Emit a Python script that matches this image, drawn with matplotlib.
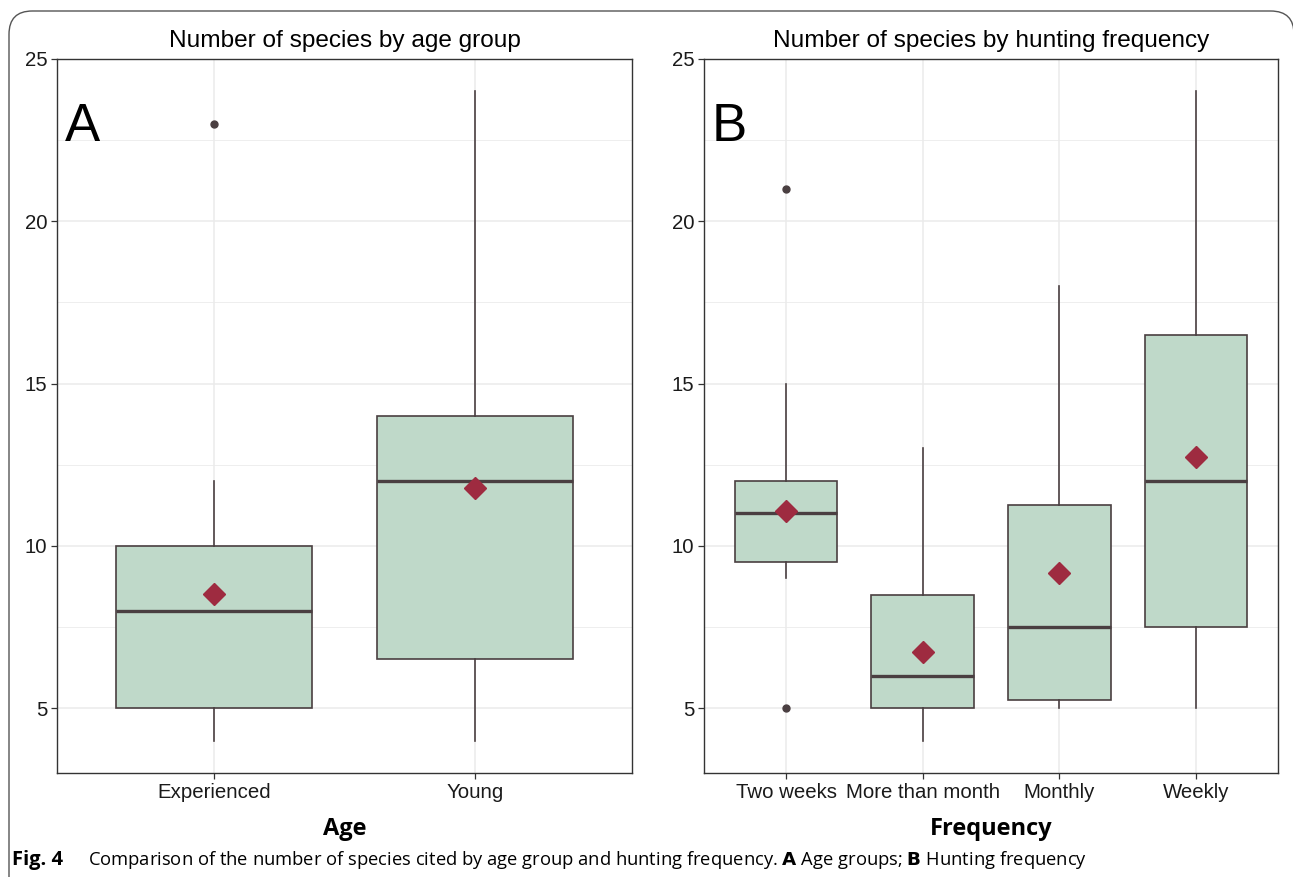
import matplotlib.pyplot as plt
from matplotlib.patches import FancyBboxPatch

# panel A: age groups
age_groups = ["Experienced", "Young"]
age_whislo = [4, 4]
age_q1 = [5, 6.5]
age_med = [8, 12]
age_q3 = [10, 14]
age_whishi = [12, 24]
age_fliers = [[23], []]
age_means = [8.51, 11.78]

# panel B: hunting frequency
freq_groups = ["Two weeks", "More than month", "Monthly", "Weekly"]
freq_whislo = [9, 4, 5, 5]
freq_q1 = [9.5, 5, 5.25, 7.5]
freq_med = [11, 6, 7.5, 12]
freq_q3 = [12, 8.5, 11.25, 16.5]
freq_whishi = [15, 13, 18, 24]
freq_fliers = [[21, 5], [], [], []]
freq_means = [11.07, 6.73, 9.16, 12.73]

box_fill = "#bfd9c9"
edge = "#4a3f41"
mean_col = "#9e2b40"
grid_col = "#ebebeb"

W, H = 1293, 877
fig = plt.figure(figsize=(W / 100, H / 100), dpi=100)


def px_axes(l, r, t, b):
    return fig.add_axes([l / W, 1 - b / H, (r - l) / W, (b - t) / H])


def panel(ax, groups, lo, q1, med, q3, hi, fliers, means, title, letter, xlabel):
    stats = []
    for i, g in enumerate(groups):
        stats.append(dict(label=g, whislo=lo[i], q1=q1[i], med=med[i],
                          q3=q3[i], whishi=hi[i], fliers=fliers[i]))
    pos = list(range(1, len(groups) + 1))
    ax.bxp(stats, positions=pos, widths=0.75, patch_artist=True, showcaps=False,
           boxprops=dict(facecolor=box_fill, edgecolor=edge, linewidth=1.2),
           medianprops=dict(color=edge, linewidth=2.4, solid_capstyle="butt"),
           whiskerprops=dict(color=edge, linewidth=1.2),
           flierprops=dict(marker="o", markersize=5, markerfacecolor=edge,
                           markeredgecolor=edge), zorder=3)
    ax.plot(pos, means, linestyle="none", marker="D", markersize=11,
            color=mean_col, zorder=5)
    ax.set_xlim(0.4, len(groups) + 0.6)
    ax.set_ylim(3, 25)
    ax.set_yticks([5, 10, 15, 20, 25])
    ax.set_yticks([7.5, 12.5, 17.5, 22.5], minor=True)
    ax.set_xticks(pos)
    ax.set_xticklabels(groups, fontsize=14.7, color="#1a1a1a",
                       family="Liberation Sans")
    for lab in ax.get_yticklabels():
        lab.set_fontsize(14.7)
        lab.set_color("#1a1a1a")
        lab.set_family("Liberation Sans")
    ax.grid(True, which="major", color=grid_col, linewidth=1.1, zorder=0)
    ax.grid(True, which="minor", axis="y", color=grid_col, linewidth=0.6, zorder=0)
    ax.set_axisbelow(True)
    ax.tick_params(which="major", length=4, width=0.9, color="#333333", pad=3)
    ax.tick_params(which="minor", length=0)
    for s in ax.spines.values():
        s.set_color("#333333")
        s.set_linewidth(1.0)
    ax.set_title(title, fontsize=17.6, family="Liberation Sans", pad=9)
    ax.text(0.013, 0.905, letter, transform=ax.transAxes, fontsize=38,
            family="Liberation Sans", va="center", ha="left")
    ax.set_xlabel(xlabel, fontsize=17, fontweight="bold", family="Open Sans",
                  labelpad=11)


axA = px_axes(57, 632, 59, 773)
panel(axA, age_groups, age_whislo, age_q1, age_med, age_q3, age_whishi,
      age_fliers, age_means, "Number of species by age group", "A", "Age")

axB = px_axes(704, 1278, 59, 773)
panel(axB, freq_groups, freq_whislo, freq_q1, freq_med, freq_q3, freq_whishi,
      freq_fliers, freq_means, "Number of species by hunting frequency", "B",
      "Frequency")

# rounded frame around the figure (right and bottom run off the page)
frame = FancyBboxPatch((9 / W, -0.05), (1294 - 9) / W, 1 - 11 / H + 0.05,
                       boxstyle="round,pad=0,rounding_size=0.018",
                       transform=fig.transFigure, fill=False,
                       edgecolor="#555555", linewidth=1.0, mutation_aspect=W / H)
fig.patches.append(frame)

fig.text(12 / W, 1 - 860 / H, "Fig. 4", fontsize=14.5, fontweight="bold",
         family="Open Sans", va="center", ha="left")
fig.text(88 / W, 1 - 860 / H,
         "Comparison of the number of species cited by age group and hunting "
         "frequency. $\\bf{A}$ Age groups; $\\bf{B}$ Hunting frequency",
         fontsize=13.2, family="Open Sans", va="center", ha="left")

fig.savefig("out.png", dpi=100)
